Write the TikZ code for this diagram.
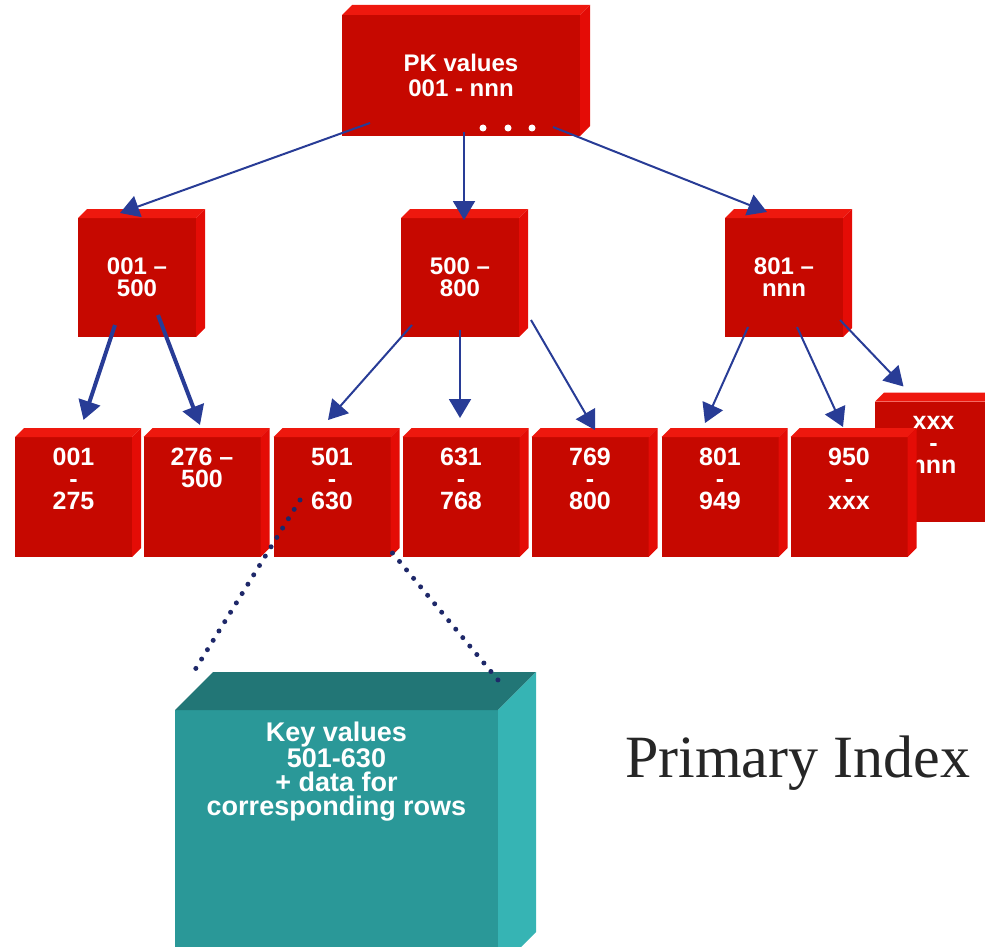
\documentclass[tikz,border=0pt]{standalone}
\usepackage{fontspec}
\setmainfont{Liberation Serif}
\newfontfamily\boxfont{Liberation Sans}
\usetikzlibrary{arrows.meta,positioning}

\definecolor{redfront}{RGB}{198,8,0}
\definecolor{redtop}{RGB}{238,24,14}
\definecolor{redside}{RGB}{228,12,6}
\definecolor{tealfront}{RGB}{42,152,152}
\definecolor{tealtop}{RGB}{34,118,118}
\definecolor{tealside}{RGB}{54,180,180}
\definecolor{arrowblue}{RGB}{40,60,150}
\definecolor{dotblue}{RGB}{30,40,105}

% top and right faces of a box node: name, depth, top colour, side colour
\newcommand{\cubesides}[4]{%
  \fill[#3] (#1.north west) -- ++(#2,#2) -- ([shift={(#2,#2)}]#1.north east) -- (#1.north east) -- cycle;
  \fill[#4] (#1.north east) -- ++(#2,#2) -- ([shift={(#2,#2)}]#1.south east) -- (#1.south east) -- cycle;}

\tikzset{
  cube/.style={rectangle, fill=redfront, inner sep=0pt, outer sep=0pt, text=white, align=center,
    font=\boxfont\bfseries\fontsize{24}{22}\selectfont},
  mid/.style={cube, minimum width=118pt, minimum height=119pt},
  leaf/.style={cube, minimum width=117pt, minimum height=120pt},
  leaftext/.style={text=white, inner sep=0pt, align=center,
    font=\boxfont\bfseries\fontsize{25}{22}\selectfont},
  link/.style={draw=arrowblue, line width=2pt, -{Triangle[length=19pt,width=22pt]}},
  dots/.style={draw=dotblue, line width=5pt, line cap=round, dash pattern=on 0pt off 11pt}
}

\begin{document}
\begin{tikzpicture}[x=1pt, y=1pt]
\useasboundingbox (0,0) rectangle (985,-947);
\clip (0,0) rectangle (985,-947);

% root
\node[cube, minimum width=238pt, minimum height=121pt, font=\boxfont\bfseries\fontsize{24}{25}\selectfont] (root) at (461,-75.5) {PK values\\001 - nnn};
\foreach \dx in {483,508,532}
  \fill[white] (\dx,-128) circle (3.5pt);

% first level
\node[mid] (l1a) at (137,-277.5) {001 \textendash\\500};
\node[mid] (l1b) at (460,-277.5) {500 \textendash\\800};
\node[mid] (l1c) at (784,-277.5) {801 \textendash\\nnn};

% leaves (the last one sits behind)
\node[leaf] (l2h) at (933.5,-461.5) {};
\node[leaftext, below=15pt of l2h.north] (t2h) {xxx\\-\\nnn};
\node[leaf] (l2a) at (73.5,-497) {};
\node[leaf] (l2b) at (202,-497) {};
\node[leaf] (l2c) at (332,-497) {};
\node[leaf] (l2d) at (461,-497) {};
\node[leaf] (l2e) at (590,-497) {};
\node[leaf] (l2f) at (720,-497) {};
\node[leaf] (l2g) at (849,-497) {};

\cubesides{root}{10}{redtop}{redside}
\foreach \n in {l1a,l1b,l1c,l2h,l2a,l2b,l2c,l2d,l2e,l2f,l2g}{
  \cubesides{\n}{9}{redtop}{redside}
}

\node[leaftext, below=11pt of l2a.north] (t2a) {001\\-\\275};
\node[leaftext, below=11pt of l2b.north] (t2b) {276 \textendash\\500};
\node[leaftext, below=11pt of l2c.north] (t2c) {501\\-\\630};
\node[leaftext, below=11pt of l2d.north] (t2d) {631\\-\\768};
\node[leaftext, below=11pt of l2e.north] (t2e) {769\\-\\800};
\node[leaftext, below=11pt of l2f.north] (t2f) {801\\-\\949};
\node[leaftext, below=11pt of l2g.north] (t2g) {950\\-\\xxx};

% data block
\node[rectangle, fill=tealfront, inner sep=0pt, outer sep=0pt, minimum width=323pt, minimum height=260pt] (keybox) at (336.5,-840) {};
\cubesides{keybox}{38}{tealtop}{tealside}
\node[leaftext, font=\boxfont\bfseries\fontsize{27}{24}\selectfont, below=12pt of keybox.north] (keytext)
  {Key values\\501-630\\+ data for\\corresponding rows};

\node[anchor=base west, inner sep=0pt, text=black!85, font=\fontsize{60}{72}\selectfont] (title) at (625,-777) {Primary Index};

% arrows
\draw[link] ([shift={(28,13)}]root.south west) -- ([shift={(-17,5)}]l1a.north);
\draw[link] ([shift={(3,4)}]root.south) -- ([shift={(4,-2)}]l1b.north);
\draw[link] ([shift={(-27,9)}]root.south east) -- ([shift={(-17,6)}]l1c.north);
\draw[link, line width=4pt] ([shift={(37,12)}]l1a.south west) -- ([shift={(10,17)}]l2a.north);
\draw[link, line width=4pt] ([shift={(-38,22)}]l1a.south east) -- ([shift={(-2,12)}]l2b.north);
\draw[link] ([shift={(11,12)}]l1b.south west) -- ([shift={(-4,17)}]l2c.north);
\draw[link] ([shift={(0,7)}]l1b.south) -- ([shift={(-1,19)}]l2d.north);
\draw[link] ([shift={(12,17)}]l1b.south east) -- ([shift={(5,7)}]l2e.north);
\draw[link] ([shift={(23,10)}]l1c.south west) -- ([shift={(-15,14)}]l2f.north);
\draw[link] ([shift={(13,10)}]l1c.south) -- ([shift={(-6,10)}]l2g.north);
\draw[link] ([shift={(-3,17)}]l1c.south east) -- ([shift={(-30,15)}]l2h.north);

% zoom lines
\draw[dots] ([shift={(26.5,57)}]l2c.south west) -- ([shift={(18,37)}]keybox.north west);
\draw[dots] ([shift={(2,4)}]l2c.south east) -- ([shift={(0,30)}]keybox.north east);
\end{tikzpicture}
\end{document}
